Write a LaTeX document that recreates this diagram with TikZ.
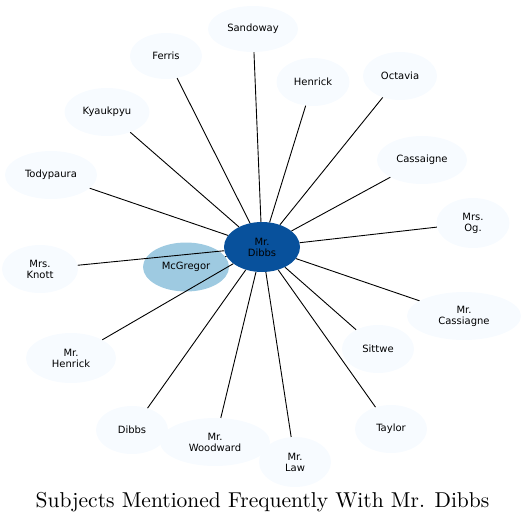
\documentclass[tikz,border=0pt]{standalone}
\usepackage{fontspec}
\newfontfamily\nodefont{DejaVu Sans}
\newfontfamily\titlefont{lmroman10-regular}[Extension=.otf]
\usetikzlibrary{shapes.geometric}
\definecolor{pale}{HTML}{F7FBFF}
\definecolor{midblue}{HTML}{9ECAE1}
\definecolor{deepblue}{HTML}{08519C}
\begin{document}
\begin{tikzpicture}[x=1pt,y=-1pt,
  person/.style={ellipse,fill=pale,draw=none,inner sep=0pt,align=center,
    font=\nodefont\fontsize{10}{11}\selectfont},
  link/.style={draw=black,line width=0.9pt}]
\useasboundingbox (0,0) rectangle (525,523);
% nodes
\node[person,minimum width=90,minimum height=46] (sandoway) at (253,29) {Sandoway};
\node[person,minimum width=72,minimum height=46] (ferris) at (166,56) {Ferris};
\node[person,minimum width=73,minimum height=48] (henrick) at (313,82) {Henrick};
\node[person,minimum width=74,minimum height=48] (octavia) at (400,76) {Octavia};
\node[person,minimum width=85,minimum height=48] (kyaukpyu) at (107,112) {Kyaukpyu};
\node[person,minimum width=92,minimum height=48] (todypaura) at (51,175) {Todypaura};
\node[person,minimum width=90,minimum height=48] (cassaigne) at (422,160) {Cassaigne};
\node[person,minimum width=73,minimum height=50] (og) at (473,223) {Mrs.\\Og.};
\node[person,minimum width=76,minimum height=48] (knott) at (40,269) {Mrs.\\Knott};
\node[person,fill=midblue,minimum width=86,minimum height=49] (mcgregor) at (186,267) {McGregor};
\node[person,minimum width=90,minimum height=50] (mrhenrick) at (71,358) {Mr.\\Henrick};
\node[person,minimum width=72,minimum height=48] (sittwe) at (378,349) {Sittwe};
\node[person,minimum width=114,minimum height=48] (mrcassiagne) at (464,316) {Mr.\\Cassiagne};
\node[person,minimum width=72,minimum height=48] (taylor) at (391,429) {Taylor};
\node[person,minimum width=72,minimum height=48] (dibbs) at (132,430) {Dibbs};
\node[person,minimum width=110,minimum height=48] (woodward) at (215,442) {Mr.\\Woodward};
\node[person,minimum width=72,minimum height=50] (law) at (295,462) {Mr.\\Law};
\node[person,fill=deepblue,minimum width=76,minimum height=50] (mrdibbs) at (262,247) {Mr.\\Dibbs};
% connectors
\foreach \t in {sandoway,ferris,henrick,octavia,kyaukpyu,todypaura,cassaigne,og,knott,mcgregor,mrhenrick,sittwe,mrcassiagne,taylor,dibbs,woodward,law}
  \draw[link] (mrdibbs) -- (\t);
% title
\node[anchor=base,inner sep=0pt] (title) at (262.5,507) {\titlefont\fontsize{21.5}{25}\selectfont Subjects Mentioned Frequently With Mr. Dibbs};
\end{tikzpicture}
\end{document}
